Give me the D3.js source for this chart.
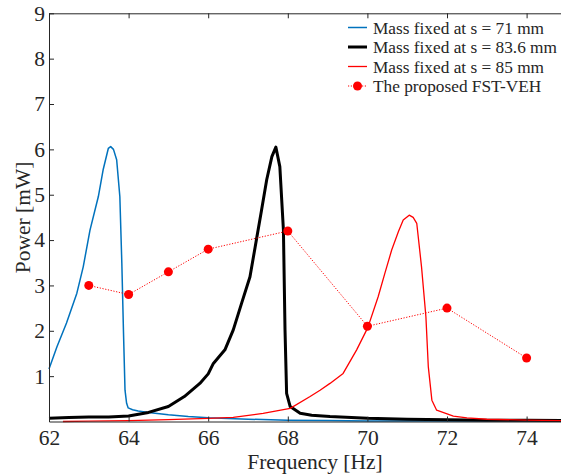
<!DOCTYPE html>
<html>
<head>
<meta charset="utf-8">
<script src="https://cdn.jsdelivr.net/npm/d3@7"></script>
<style>
  body { margin: 0; background: #fff; }
  svg { display: block; }
</style>
</head>
<body>
<svg id="chart"></svg>
<script>
// Mass fixed at s = 71 mm
const blueFreq = [62.0, 62.2, 62.44, 62.7, 62.86, 63.03, 63.24, 63.36, 63.49, 63.55, 63.62, 63.7, 63.78, 63.83, 63.87, 63.91, 63.95, 63.99, 64.1, 64.24, 64.5, 65, 65.5, 66, 67, 68, 69, 70, 72, 75];
const bluePower = [1.16, 1.65, 2.17, 2.83, 3.41, 4.22, 4.96, 5.55, 6.02, 6.06, 6.0, 5.77, 4.96, 3.49, 2.02, 0.69, 0.4, 0.3, 0.26, 0.23, 0.2, 0.15, 0.11, 0.08, 0.05, 0.03, 0.02, 0.01, 0.01, 0.01];

// Mass fixed at s = 83.6 mm
const blackFreq = [62, 62.5, 63, 63.5, 64, 64.5, 65, 65.4, 65.79, 66.0, 66.13, 66.42, 66.63, 66.84, 67.05, 67.18, 67.34, 67.47, 67.6, 67.7, 67.8, 67.89, 67.93, 67.97, 68.06, 68.31, 68.6, 69.06, 70, 71, 72, 73, 74, 75];
const blackPower = [0.07, 0.09, 0.1, 0.1, 0.12, 0.2, 0.33, 0.55, 0.84, 1.05, 1.28, 1.58, 2.02, 2.61, 3.19, 3.85, 4.66, 5.33, 5.84, 6.05, 5.62, 4.22, 2.02, 0.62, 0.33, 0.18, 0.14, 0.11, 0.07, 0.05, 0.04, 0.03, 0.03, 0.02];

// Mass fixed at s = 85 mm
const redFreq = [62.35, 63, 64, 65, 66, 66.63, 67.38, 68.06, 68.56, 68.81, 69.06, 69.39, 69.73, 70.01, 70.27, 70.44, 70.61, 70.78, 70.9, 71.05, 71.15, 71.24, 71.36, 71.47, 71.53, 71.62, 71.74, 72.16, 72.5, 73, 74, 75];
const redPower = [0, 0.01, 0.02, 0.04, 0.07, 0.09, 0.18, 0.29, 0.55, 0.69, 0.84, 1.06, 1.58, 2.07, 2.75, 3.27, 3.78, 4.19, 4.44, 4.55, 4.5, 4.37, 3.41, 2.31, 1.21, 0.47, 0.25, 0.12, 0.08, 0.05, 0.03, 0.02];

// The proposed FST-VEH
const fstFreq = [63, 64, 65, 66, 68, 70, 72, 74];
const fstPower = [3.0, 2.8, 3.3, 3.8, 4.2, 2.1, 2.5, 1.4];

const xTicks = [62, 64, 66, 68, 70, 72, 74];
const yTicks = [1, 2, 3, 4, 5, 6, 7, 8, 9];

const legendNames = ["Mass fixed at s = 71 mm", "Mass fixed at s = 83.6 mm", "Mass fixed at s = 85 mm", "The proposed FST-VEH"];

const W = 561, H = 474;
const font = "'Liberation Serif', 'Times New Roman', serif";

const svg = d3.select("#chart")
    .attr("width", W)
    .attr("height", H);

const x = d3.scaleLinear().domain([62, 75]).range([49, 566.4]);
const y = d3.scaleLinear().domain([0, 9]).range([421.5, 13.3]);

// curves
const zip = (xs, ys) => xs.map((d, i) => ({ f: d, p: ys[i] }));
const line = d3.line().x(d => x(d.f)).y(d => y(d.p));

const series = [
    { data: zip(blueFreq, bluePower), color: "#0072BD", width: 1.5 },
    { data: zip(blackFreq, blackPower), color: "#000000", width: 3 },
    { data: zip(redFreq, redPower), color: "#FF0000", width: 1.3 }
];

svg.selectAll(".curve")
    .data(series)
    .enter()
    .append("path")
    .attr("class", "curve")
    .attr("d", d => line(d.data))
    .attr("fill", "none")
    .attr("stroke", d => d.color)
    .attr("stroke-width", d => d.width)
    .attr("stroke-linejoin", "round");

// FST-VEH dotted line + markers
const fst = zip(fstFreq, fstPower);
svg.append("path")
    .attr("d", line(fst))
    .attr("fill", "none")
    .attr("stroke", "#FF0000")
    .attr("stroke-width", 1)
    .attr("stroke-dasharray", "1.2,1.6");

svg.selectAll(".dot")
    .data(fst)
    .enter()
    .append("circle")
    .attr("class", "dot")
    .attr("cx", d => x(d.f))
    .attr("cy", d => y(d.p))
    .attr("r", 4.5)
    .attr("fill", "#FF0000");

// axes (ticks pointing inward)
const styleAxis = g => {
    g.attr("font-family", font).attr("font-size", 21.5);
    g.selectAll("text").attr("fill", "#262626");
    g.selectAll("line, path").attr("stroke", "#262626");
};

svg.append("g")
    .attr("transform", `translate(0,${y(0)})`)
    .call(d3.axisBottom(x).tickValues(xTicks).tickSizeInner(-5).tickSizeOuter(0).tickPadding(8))
    .call(styleAxis);

svg.append("g")
    .attr("transform", `translate(0,${y(9)})`)
    .call(d3.axisTop(x).tickValues(xTicks).tickFormat("").tickSizeInner(-5).tickSizeOuter(0))
    .call(styleAxis);

svg.append("g")
    .attr("transform", `translate(${x(62)},0)`)
    .call(d3.axisLeft(y).tickValues(yTicks).tickSizeInner(-5).tickSizeOuter(0).tickPadding(4))
    .call(styleAxis);

// axis labels
svg.append("text")
    .attr("x", 315)
    .attr("y", 468.5)
    .attr("text-anchor", "middle")
    .attr("font-family", font)
    .attr("font-size", 21.5)
    .attr("fill", "#262626")
    .text("Frequency [Hz]");

svg.append("text")
    .attr("transform", `translate(29.5,${(y(0) + y(9)) / 2})rotate(-90)`)
    .attr("text-anchor", "middle")
    .attr("font-family", font)
    .attr("font-size", 21.5)
    .attr("fill", "#262626")
    .text("Power [mW]");

// legend
const legend = svg.append("g").attr("font-family", font).attr("font-size", 17.3);
const legendStyles = [
    { color: "#0072BD", width: 1.5, dash: null },
    { color: "#000000", width: 3, dash: null },
    { color: "#FF0000", width: 1.3, dash: null },
    { color: "#FF0000", width: 1, dash: "1.2,1.6", marker: true }
];

legendNames.forEach((name, i) => {
    const cy = 27.5 + i * 19.5;
    const s = legendStyles[i];
    legend.append("line")
        .attr("x1", 348).attr("x2", 367)
        .attr("y1", cy).attr("y2", cy)
        .attr("stroke", s.color)
        .attr("stroke-width", s.width)
        .attr("stroke-dasharray", s.dash);
    if (s.marker) {
        legend.append("circle")
            .attr("cx", 357.5).attr("cy", cy).attr("r", 4.5)
            .attr("fill", "#FF0000");
    }
    legend.append("text")
        .attr("x", 373)
        .attr("y", cy)
        .attr("dy", "0.35em")
        .attr("fill", "#262626")
        .text(name);
});
</script>
</body>
</html>
